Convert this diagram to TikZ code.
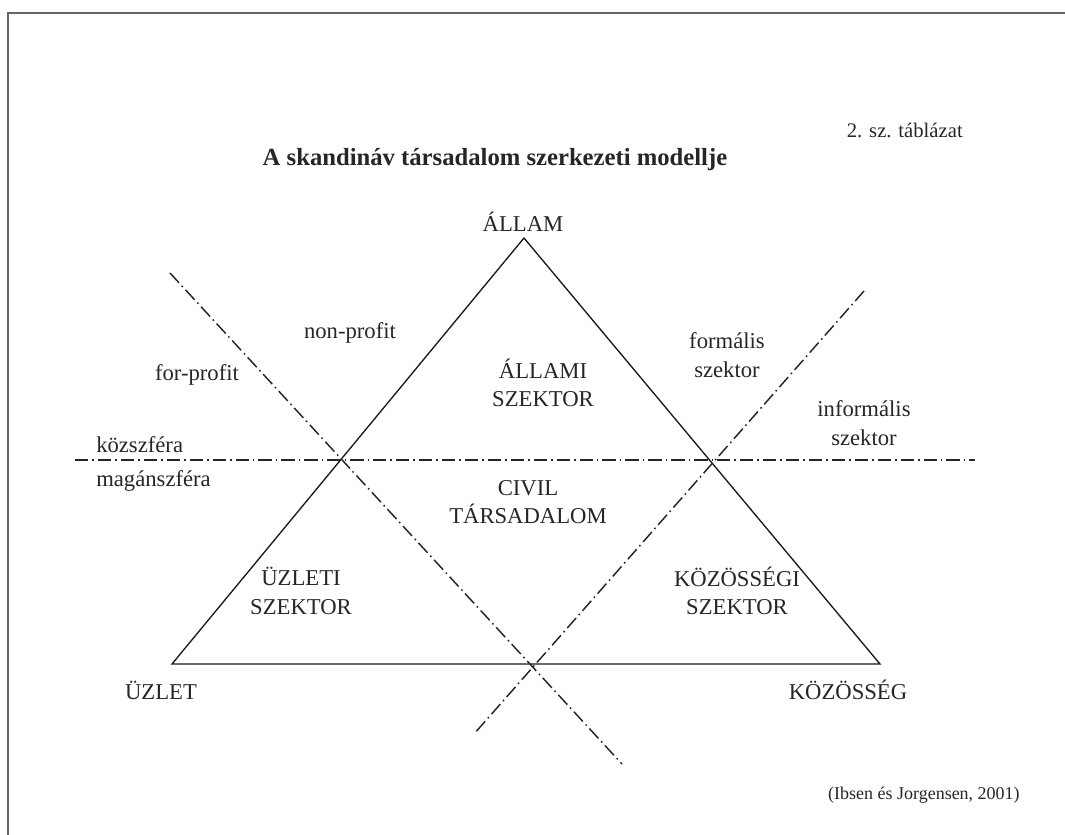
\documentclass[tikz,border=0pt]{standalone}
\usepackage{fontspec}
\setmainfont{Liberation Serif}
\begin{document}
\begin{tikzpicture}[x=0.75pt,y=-0.75pt,
  lbl/.style={inner sep=0pt,font=\fontsize{17}{21.5}\selectfont,text=black!85},
  mlbl/.style={lbl,align=center},
  divider/.style={line width=1.1pt,black!85,dash pattern=on 10pt off 3pt on 1.2pt off 3pt},
  tri/.style={line width=1pt,black!90,line join=miter}]
\useasboundingbox (0,0) rectangle (1065,835);
\fill[white] (0,0) rectangle (1065,835);
\draw[gray!80!black,line width=1.3pt] (8,835) -- (8,13) -- (1065,13);
% triangle
\coordinate (apex) at (524,238);
\coordinate (bl) at (172,664);
\coordinate (br) at (880,664);
\draw[tri] (apex) -- (br) -- (bl) -- cycle;
% dividers
\coordinate (h1) at (75,460);
\coordinate (h2) at (975,460);
\coordinate (a1) at (170,273);
\coordinate (a2) at (622,764);
\coordinate (b1) at (864,291);
\coordinate (b2) at (474,734);
\draw[divider] (h1) -- (h2);
\draw[divider] (a1) -- (a2);
\draw[divider] (b1) -- (b2);
% texts
\node[lbl,anchor=east,font=\fontsize{15.5}{20}\selectfont] (tab) at (963,130) {2. sz. táblázat};
\node[lbl,font=\fontsize{18.5}{22}\selectfont\bfseries] (title) at (495,160) {A skandináv társadalom szerkezeti modellje};
\node[lbl] (allam) at (523,222) {ÁLLAM};
\node[lbl] (np) at (350,333) {non-profit};
\node[lbl] (fp) at (197,375) {for-profit};
\node[mlbl] (allszek) at (543,383) {ÁLLAMI\\SZEKTOR};
\node[mlbl] (form) at (727,355) {formális\\szektor};
\node[mlbl] (inform) at (864,423) {informális\\szektor};
\node[lbl,anchor=west] (kozsz) at (96,445) {közszféra};
\node[lbl,anchor=west] (magsz) at (96,481) {magánszféra};
\node[mlbl] (civil) at (528,502) {CIVIL\\TÁRSADALOM};
\node[mlbl] (uzszek) at (301,591) {ÜZLETI\\SZEKTOR};
\node[mlbl] (kozszek) at (737,591) {KÖZÖSSÉGI\\SZEKTOR};
\node[lbl] (uzlet) at (161,690) {ÜZLET};
\node[lbl] (kozos) at (848,690) {KÖZÖSSÉG};
\node[lbl,anchor=east,font=\fontsize{13.5}{18}\selectfont] (src) at (1020,795) {(Ibsen és Jorgensen, 2001)};
\end{tikzpicture}
\end{document}
